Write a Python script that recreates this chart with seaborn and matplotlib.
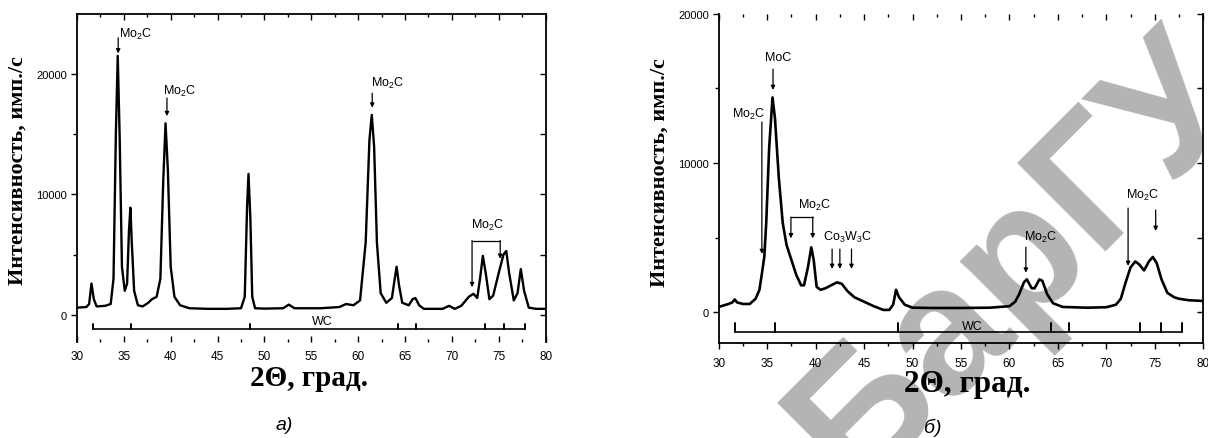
import numpy as np
import pandas as pd
import matplotlib
matplotlib.use("Agg")
import matplotlib.pyplot as plt
from matplotlib.ticker import MultipleLocator
import seaborn as sns

# ---------------- data ----------------
theta_a = [30.0, 31.0, 31.3, 31.55, 31.8, 32.1, 33.0, 33.6, 33.9, 34.15, 34.35, 34.55, 34.8,
           35.1, 35.35, 35.55, 35.7, 35.85, 36.1, 36.5, 37.0, 37.6, 38.0, 38.5, 38.9, 39.2,
           39.45, 39.7, 40.0, 40.4, 41.0, 42.0, 44.0, 46.0, 47.5, 47.9, 48.15, 48.3, 48.5,
           48.7, 49.0, 50.0, 52.0, 52.6, 53.2, 56.0, 58.0, 58.7, 59.5, 60.2, 60.8, 61.2,
           61.45, 61.7, 62.0, 62.4, 63.0, 63.6, 63.9, 64.1, 64.35, 64.7, 65.4, 65.8, 66.1,
           66.5, 67.0, 69.0, 69.7, 70.3, 71.0, 71.8, 72.3, 72.7, 73.0, 73.3, 73.6, 74.0,
           74.4, 75.0, 75.5, 75.8, 76.1, 76.6, 77.0, 77.35, 77.7, 78.2, 79.0, 80.0]
inten_a = [600, 650, 900, 2600, 1300, 700, 750, 900, 3000, 15000, 21500, 15000, 4000,
           2000, 2600, 7000, 8900, 6000, 2000, 800, 700, 1000, 1300, 1500, 3000, 11000,
           15900, 12000, 4000, 1500, 800, 550, 500, 500, 550, 1500, 9000, 11700, 8000,
           1500, 550, 520, 550, 850, 550, 550, 650, 900, 800, 1200, 6000, 14500,
           16600, 14000, 6000, 1800, 1000, 1400, 3000, 4000, 2500, 1000, 800, 1300, 1400,
           800, 500, 500, 750, 500, 750, 1500, 1750, 1400, 3000, 4900, 3500, 1300,
           1600, 3500, 5000, 5300, 3500, 1200, 1800, 3800, 2000, 600, 500, 500]

theta_b = [30.0, 31.0, 31.4, 31.65, 31.9, 32.5, 33.2, 33.8, 34.2, 34.5, 34.7, 34.9, 35.2,
           35.55, 35.8, 36.2, 36.6, 37.0, 37.5, 38.0, 38.5, 38.8, 39.2, 39.55, 39.8, 40.1,
           40.5, 41.0, 41.6, 42.2, 42.7, 43.3, 44.0, 45.0, 46.0, 47.0, 47.6, 48.0, 48.3,
           48.6, 49.2, 50.0, 52.0, 55.0, 58.0, 60.0, 60.6, 61.0, 61.5, 61.8, 62.3, 62.6,
           63.1, 63.4, 63.9, 64.5, 65.5, 68.0, 70.0, 71.0, 71.5, 72.0, 72.5, 73.0, 73.4,
           73.9, 74.4, 74.8, 75.2, 75.7, 76.3, 77.0, 77.5, 78.5, 80.0]
inten_b = [350, 550, 650, 850, 650, 550, 550, 900, 1500, 2800, 3700, 6000, 11000,
           14400, 13000, 9000, 6000, 4500, 3500, 2500, 1800, 1800, 3000, 4350, 3500, 1700,
           1500, 1600, 1800, 2000, 1900, 1400, 1000, 700, 400, 150, 150, 500, 1500,
           1000, 500, 300, 280, 280, 300, 400, 700, 1200, 2000, 2200, 1600, 1600,
           2200, 2100, 1200, 600, 350, 300, 330, 500, 900, 2000, 3000, 3400, 3200,
           2800, 3400, 3700, 3300, 2200, 1300, 1000, 900, 800, 750]

wc_positions = [31.7, 35.8, 48.5, 64.3, 66.2, 73.5, 75.6, 77.8]
x_ticks = [30, 35, 40, 45, 50, 55, 60, 65, 70, 75, 80]
y_label = "Интенсивность, имп./с"
x_label = "2Θ, град."
panel_labels = ["а)", "б)"]
watermark = "БарГУ"

# annotations: (label, label_x, label_y, [(arrow_x, y_from, y_to), ...], bracket or None)
ann_a = [
    (r"Mo$_2$C", 36.3, 23400, [(34.4, 23000, 21700)], None),
    (r"Mo$_2$C", 41.0, 18600, [(39.6, 18000, 16500)], None),
    (r"Mo$_2$C", 63.1, 19300, [(61.5, 18400, 17200)], None),
    (r"Mo$_2$C", 73.8, 7500, [(72.15, 6170, 2300), (75.15, 6170, 4650)], (72.15, 75.15, 6170)),
]
ann_b = [
    (r"MoC", 36.1, 17100, [(35.6, 16300, 14900)], None),
    (r"Mo$_2$C", 33.1, 13300, [(34.45, 12750, 3900)], None),
    (r"Mo$_2$C", 39.9, 7250, [(37.45, 6380, 4950), (39.7, 6380, 4950)], (37.45, 39.7, 6380)),
    (r"Co$_3$W$_3$C", 43.3, 5100, [(41.7, 4230, 2900), (42.5, 4230, 2900), (43.7, 4230, 2900)], None),
    (r"Mo$_2$C", 63.2, 5100, [(61.7, 4360, 2650)], None),
    (r"Mo$_2$C", 73.7, 7900, [(72.25, 6980, 3100), (75.1, 6850, 5450)], None),
]

# ---------------- style ----------------
sns.set_theme(style="white")
plt.rcParams["font.family"] = ["Liberation Sans", "DejaVu Sans"]
plt.rcParams["mathtext.fontset"] = "custom"
plt.rcParams["mathtext.rm"] = "Liberation Sans"
plt.rcParams["mathtext.it"] = "Liberation Sans:italic"
plt.rcParams["mathtext.bf"] = "Liberation Sans:bold"

fig = plt.figure(figsize=(12.08, 4.39), dpi=100)
fig.patch.set_facecolor("white")

axA = fig.add_axes([0.0637, 0.219, 0.388, 0.747])
axB = fig.add_axes([0.595, 0.216, 0.401, 0.750])

dfA = pd.DataFrame({"theta": theta_a, "I": inten_a})
dfB = pd.DataFrame({"theta": theta_b, "I": inten_b})
sns.lineplot(data=dfA, x="theta", y="I", ax=axA, color="black", lw=1.7, sort=False)
sns.lineplot(data=dfB, x="theta", y="I", ax=axB, color="black", lw=1.9, sort=False)


def style_axes(ax, ylim, wc_y, wc_tick, wc_label_y, show_top_spine, show_bottom_spine, xdir):
    ax.set_facecolor("none")
    ax.set_xlim(30, 80)
    ax.set_ylim(*ylim)
    ax.set_xlabel("")
    ax.set_ylabel("")
    ax.set_xticks(x_ticks)
    ax.xaxis.set_minor_locator(MultipleLocator(2.5))
    ax.yaxis.set_major_locator(MultipleLocator(10000))
    ax.yaxis.set_minor_locator(MultipleLocator(5000))
    for s in ["left", "right", "top", "bottom"]:
        ax.spines[s].set_color("black")
        ax.spines[s].set_linewidth(1.3)
    ax.spines["top"].set_visible(False)
    ax.spines["right"].set_visible(False)
    ax.spines["bottom"].set_visible(show_bottom_spine)
    ax.tick_params(axis="x", which="both", direction=xdir, bottom=True, top=False,
                   labelsize=8.5, pad=6, colors="black", width=1.0)
    ax.tick_params(axis="x", which="major", length=4)
    ax.tick_params(axis="x", which="minor", length=2.5)
    ax.tick_params(axis="y", which="both", direction="out", left=True, right=False,
                   labelsize=8, pad=3, colors="black", width=1.0)
    ax.tick_params(axis="y", which="major", length=4)
    ax.tick_params(axis="y", which="minor", length=3)
    # top
    sx = ax.secondary_xaxis("top")
    sx.set_xticks(x_ticks)
    sx.xaxis.set_minor_locator(MultipleLocator(2.5))
    sx.tick_params(axis="x", which="both", direction="in", labeltop=False, width=1.0, colors="black")
    sx.tick_params(axis="x", which="major", length=4)
    sx.tick_params(axis="x", which="minor", length=2.5)
    sx.spines["top"].set_visible(show_top_spine)
    sx.spines["top"].set_color("black")
    sx.spines["top"].set_linewidth(1.3)
    # right
    sy = ax.secondary_yaxis("right")
    sy.yaxis.set_major_locator(MultipleLocator(10000))
    sy.yaxis.set_minor_locator(MultipleLocator(5000))
    sy.tick_params(axis="y", which="both", direction="in", labelright=False, width=1.0,
                   length=4, colors="black")
    sy.spines["right"].set_color("black")
    sy.spines["right"].set_linewidth(1.3)
    # WC stick line
    ax.plot([wc_positions[0], wc_positions[-1]], [wc_y, wc_y], color="black", lw=1.2)
    for p in wc_positions:
        ax.plot([p, p], [wc_y, wc_y + wc_tick], color="black", lw=1.4)
    ax.text(56.2, wc_label_y, "WC", ha="center", va="center", fontsize=9, color="black")


style_axes(axA, (-2240, 24980), -1170, 450, -480, True, False, "in")
style_axes(axB, (-2080, 20000), -1340, 600, -900, False, True, "out")
axA.set_yticks([0, 10000, 20000], labels=["0", "10000", "20000"], minor=False)
axB.set_yticks([0, 10000, 20000], labels=["0", "10000", "20000"], minor=False)


def annotate(ax, anns):
    for label, lx, ly, arrows, bracket in anns:
        ax.text(lx, ly, label, ha="center", va="center", fontsize=9, color="black")
        for x, y0, y1 in arrows:
            ax.annotate("", xy=(x, y1), xytext=(x, y0),
                        arrowprops=dict(arrowstyle="-|>", color="black", lw=0.9,
                                        mutation_scale=6, shrinkA=0, shrinkB=0))
        if bracket is not None:
            bx0, bx1, by = bracket
            ax.plot([bx0, bx1], [by, by], color="black", lw=0.9)


annotate(axA, ann_a)
annotate(axB, ann_b)

# axis titles
fig.text(0.0149, 0.6105, y_label, rotation=90, ha="center", va="center",
         family="Liberation Serif", fontweight="bold", fontsize=16, color="black")
fig.text(0.5464, 0.606, y_label, rotation=90, ha="center", va="center",
         family="Liberation Serif", fontweight="bold", fontsize=16, color="black")
fig.text(0.2554, 0.121, x_label, ha="center", va="baseline",
         family="Liberation Serif", fontweight="bold", fontsize=21, color="black")
fig.text(0.8005, 0.108, x_label, ha="center", va="baseline",
         family="Liberation Serif", fontweight="bold", fontsize=22.5, color="black")
fig.text(0.235, 0.0205, panel_labels[0], ha="center", va="baseline",
         fontstyle="italic", fontsize=14, color="black")
fig.text(0.772, 0.0137, panel_labels[1], ha="center", va="baseline",
         fontstyle="italic", fontsize=14, color="black")

# watermark (behind the plots)
fig.text(0.707, -0.1178, watermark, rotation=45, rotation_mode="anchor",
         ha="left", va="baseline", family="Liberation Sans", fontweight="bold",
         fontsize=130, color="#b4b4b4", zorder=-1)

fig.savefig("out.png", dpi=100)
